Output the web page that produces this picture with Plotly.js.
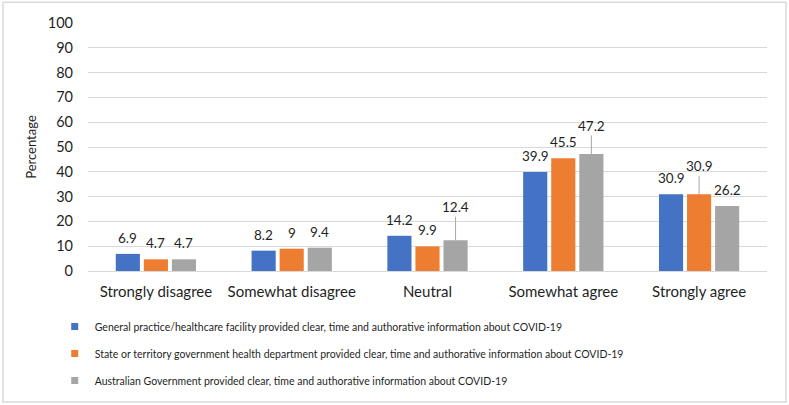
<!DOCTYPE html>
<html>
<head>
<meta charset="utf-8">
<script src="https://cdn.plot.ly/plotly-3.0.1.min.js"></script>
<style>html,body{margin:0;padding:0;background:#fff;}#chart{width:789px;height:405px;}</style>
</head>
<body>
<div id="chart"></div>
<script>
const categories = ["Strongly disagree", "Somewhat disagree", "Neutral", "Somewhat agree", "Strongly agree"];
const seriesNames = [
  "General practice/healthcare facility provided clear, time and authorative information about COVID-19",
  "State or territory government health department provided clear, time and authorative information about COVID-19",
  "Australian Government provided clear, time and authorative information about COVID-19"
];
const generalPractice = [6.9, 8.2, 14.2, 39.9, 30.9];
const stateTerritory = [4.7, 9, 9.9, 45.5, 30.9];
const australianGov = [4.7, 9.4, 12.4, 47.2, 26.2];
const yTicks = [0, 10, 20, 30, 40, 50, 60, 70, 80, 90, 100];
// labels drawn with a leader line (series index, category index)
const leaderLabels = [[2, 2], [2, 3], [1, 4]];
const leaderOffsets = [-33, -28, -28];

const allSeries = [generalPractice, stateTerritory, australianGov];
const colors = ["#4472C4", "#ED7D31", "#A5A5A5"];
const FONT = "Lato, 'Open Sans', sans-serif";
const TXT = "#1f1f1f";

const traces = [];
allSeries.forEach((vals, i) => {
  traces.push({
    type: "bar", x: categories, y: vals, name: seriesNames[i],
    marker: {color: colors[i]}, showlegend: false, hoverinfo: "y"
  });
});
// legend entries with small square symbols
allSeries.forEach((vals, i) => {
  traces.push({
    type: "scatter", mode: "markers", x: [null], y: [null], name: seriesNames[i],
    marker: {symbol: "square", size: 7, color: colors[i]}, legendgroup: "g" + i, showlegend: true
  });
});

// data labels via annotations, positioned on each bar in the grouped layout
const nS = allSeries.length;
const bargap = 0.38;
const annotations = [];
const slotFrac = (1 - bargap) / nS; // fraction of category width per bar slot
allSeries.forEach((vals, si) => {
  vals.forEach((v, ci) => {
    const offset = (si - (nS - 1) / 2) * slotFrac; // in category units
    const li = leaderLabels.findIndex(p => p[0] === si && p[1] === ci);
    const a = {
      x: ci + offset, y: v, xref: "x", yref: "y",
      text: String(v), font: {family: FONT, size: 13.5, color: TXT}
    };
    if (li >= 0) {
      Object.assign(a, {showarrow: true, arrowhead: 0, arrowwidth: 1, arrowcolor: "#a6a6a6", ax: 0, ay: leaderOffsets[li], standoff: 0});
    } else {
      Object.assign(a, {showarrow: false, yanchor: "middle", yshift: 16});
    }
    annotations.push(a);
  });
});

const layout = {
  width: 789, height: 405,
  margin: {l: 88, r: 22.3, t: 22.7, b: 134.3, autoexpand: false},
  paper_bgcolor: "#fff", plot_bgcolor: "#fff",
  barmode: "group", bargap: bargap, bargroupgap: 0.14,
  font: {family: FONT, color: TXT},
  xaxis: {
    type: "category", tickfont: {family: FONT, size: 15, color: TXT},
    showgrid: false, showline: false, zeroline: false, ticks: "", ticklabelstandoff: 10,
    fixedrange: true
  },
  yaxis: {
    range: [0, 100], tickvals: yTicks, ticktext: yTicks.map(String),
    tickfont: {family: FONT, size: 14.5, color: TXT},
    showgrid: true, gridcolor: "#d9d9d9", gridwidth: 1,
    zeroline: true, zerolinecolor: "#d9d9d9", zerolinewidth: 1,
    showline: false, ticks: "", ticklabelstandoff: 14,
    title: {text: "Percentage", font: {family: FONT, size: 13, color: TXT}, standoff: 8},
    fixedrange: true
  },
  legend: {
    orientation: "v", x: -0.049, xanchor: "left", y: -0.165, yanchor: "top",
    font: {family: FONT, size: 10.5, color: TXT},
    traceorder: "grouped", tracegroupgap: 8, bgcolor: "rgba(0,0,0,0)"
  },
  annotations: annotations,
  shapes: [{
    type: "rect", xref: "paper", yref: "paper",
    x0: -0.1252, x1: 1.028, y0: -0.528, y1: 1.0835,
    line: {color: "#d9d9d9", width: 1.5}, fillcolor: "rgba(0,0,0,0)", layer: "below"
  }]
};

Plotly.newPlot("chart", traces, layout, {displayModeBar: false, staticPlot: true});
</script>
</body>
</html>
